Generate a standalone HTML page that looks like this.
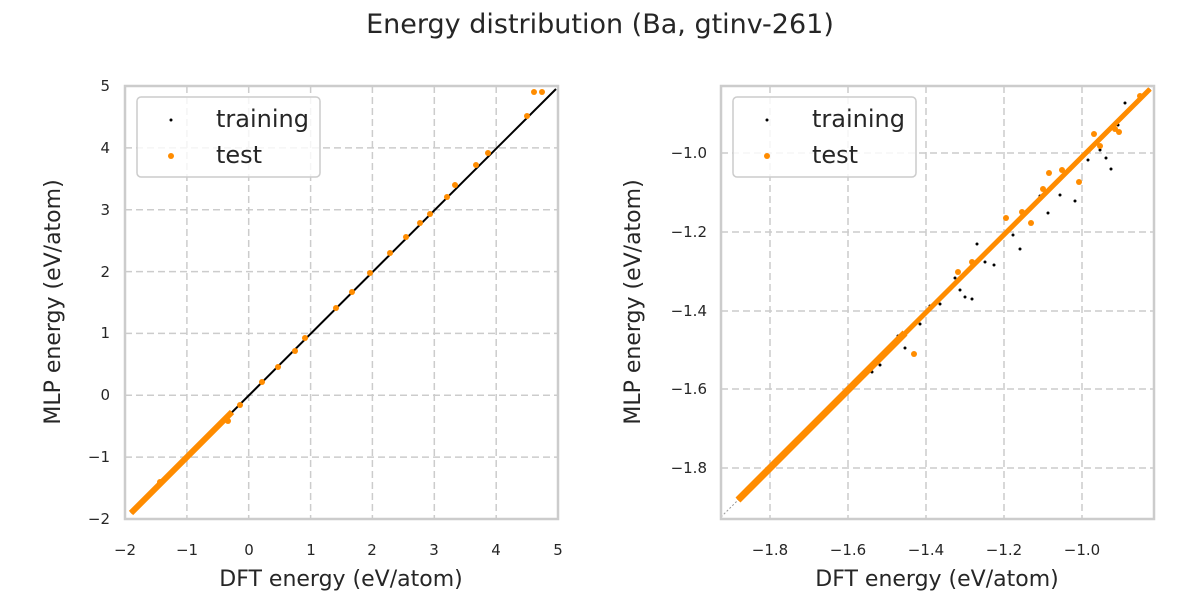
<!DOCTYPE html>
<html><head><meta charset="utf-8"><style>
body{margin:0;background:#fff;font-family:"DejaVu Sans","Liberation Sans",sans-serif;}
</style></head><body>
<svg width="1200" height="600" xmlns="http://www.w3.org/2000/svg" font-family="DejaVu Sans, Liberation Sans, sans-serif" fill="#262626">
<text x="600" y="33" font-size="27" text-anchor="middle">Energy distribution (Ba, gtinv-261)</text>

<!-- LEFT -->
<g stroke="#cccccc" stroke-width="1.5" stroke-dasharray="7,4">
<line x1="186.9" y1="86" x2="186.9" y2="519"/><line x1="248.7" y1="86" x2="248.7" y2="519"/><line x1="310.6" y1="86" x2="310.6" y2="519"/><line x1="372.4" y1="86" x2="372.4" y2="519"/><line x1="434.3" y1="86" x2="434.3" y2="519"/><line x1="496.2" y1="86" x2="496.2" y2="519"/>
<line x1="125" y1="457.1" x2="558" y2="457.1"/><line x1="125" y1="395.3" x2="558" y2="395.3"/><line x1="125" y1="333.4" x2="558" y2="333.4"/><line x1="125" y1="271.6" x2="558" y2="271.6"/><line x1="125" y1="209.7" x2="558" y2="209.7"/><line x1="125" y1="147.9" x2="558" y2="147.9"/>
</g>
<line x1="131" y1="513" x2="556" y2="89" stroke="#000" stroke-width="2"/>
<line x1="131" y1="513" x2="232" y2="412" stroke="#ff8c00" stroke-width="6"/>
<g fill="#ff8c00">
<circle cx="160" cy="482" r="3"/><circle cx="185" cy="459" r="3"/><circle cx="228" cy="421" r="3"/><circle cx="240" cy="405" r="3"/><circle cx="262" cy="382" r="3"/><circle cx="278" cy="367" r="3"/><circle cx="295" cy="351" r="3"/><circle cx="305" cy="338" r="3"/><circle cx="336" cy="308" r="3"/><circle cx="352" cy="292" r="3"/><circle cx="370" cy="273" r="3"/><circle cx="390" cy="253" r="3"/><circle cx="406" cy="237" r="3"/><circle cx="420" cy="223" r="3"/><circle cx="430" cy="214" r="3"/><circle cx="447" cy="197" r="3"/><circle cx="455" cy="185" r="3"/><circle cx="476" cy="165" r="3"/><circle cx="488" cy="153" r="3"/><circle cx="527" cy="116" r="3"/><circle cx="534" cy="92" r="3"/><circle cx="542" cy="92" r="3"/>
</g>
<rect x="125" y="86" width="433" height="433" fill="none" stroke="#cccccc" stroke-width="2.5"/>
<g font-size="15" text-anchor="end">
<text x="110" y="524">−2</text><text x="110" y="462">−1</text><text x="110" y="400">0</text><text x="110" y="338">1</text><text x="110" y="277">2</text><text x="110" y="215">3</text><text x="110" y="153">4</text><text x="110" y="91">5</text>
</g>
<g font-size="15" text-anchor="middle">
<text x="125" y="555">−2</text><text x="187" y="555">−1</text><text x="249" y="555">0</text><text x="311" y="555">1</text><text x="372" y="555">2</text><text x="434" y="555">3</text><text x="496" y="555">4</text><text x="558" y="555">5</text>
</g>
<text x="341" y="586" font-size="22" text-anchor="middle">DFT energy (eV/atom)</text>
<text transform="translate(60,302) rotate(-90)" font-size="22" text-anchor="middle">MLP energy (eV/atom)</text>
<rect x="137" y="97" width="183" height="80" rx="4" fill="#fff" fill-opacity="0.8" stroke="#cccccc" stroke-width="1.5"/>
<circle cx="171" cy="120" r="1.5" fill="#000"/><circle cx="171" cy="156" r="3" fill="#ff8c00"/>
<text x="216" y="127" font-size="24">training</text><text x="216" y="163" font-size="24">test</text>

<!-- RIGHT -->
<g stroke="#cccccc" stroke-width="1.5" stroke-dasharray="7,4">
<line x1="770" y1="86" x2="770" y2="519"/><line x1="848" y1="86" x2="848" y2="519"/><line x1="926" y1="86" x2="926" y2="519"/><line x1="1004" y1="86" x2="1004" y2="519"/><line x1="1082" y1="86" x2="1082" y2="519"/>
<line x1="721" y1="153" x2="1154" y2="153"/><line x1="721" y1="232" x2="1154" y2="232"/><line x1="721" y1="311" x2="1154" y2="311"/><line x1="721" y1="389" x2="1154" y2="389"/><line x1="721" y1="468" x2="1154" y2="468"/>
</g>
<line x1="721" y1="517" x2="1152" y2="88" stroke="#999" stroke-width="1" stroke-dasharray="2,2"/>
<line x1="738" y1="500" x2="1150" y2="89" stroke="#000" stroke-width="3"/>
<g fill="#000">
<circle cx="1111" cy="169" r="1.5"/><circle cx="1075" cy="201" r="1.5"/><circle cx="1106" cy="158" r="1.5"/><circle cx="1048" cy="213" r="1.5"/><circle cx="1020" cy="249" r="1.5"/><circle cx="994" cy="265" r="1.5"/><circle cx="977" cy="244" r="1.5"/><circle cx="1060" cy="195" r="1.5"/><circle cx="1088" cy="160" r="1.5"/><circle cx="1100" cy="150" r="1.5"/><circle cx="1040" cy="196" r="1.5"/><circle cx="1013" cy="235" r="1.5"/><circle cx="985" cy="262" r="1.5"/><circle cx="960" cy="290" r="1.5"/><circle cx="965" cy="297" r="1.5"/><circle cx="972" cy="299" r="1.5"/><circle cx="940" cy="304" r="1.5"/><circle cx="930" cy="306" r="1.5"/><circle cx="920" cy="324" r="1.5"/><circle cx="905" cy="348" r="1.5"/><circle cx="898" cy="336" r="1.5"/><circle cx="880" cy="365" r="1.5"/><circle cx="872" cy="372" r="1.5"/><circle cx="1125" cy="103" r="1.5"/><circle cx="1130" cy="108" r="1.5"/><circle cx="1118" cy="125" r="1.5"/><circle cx="1070" cy="170" r="1.5"/><circle cx="1028" cy="210" r="1.5"/><circle cx="955" cy="278" r="1.5"/>
</g>
<line x1="738" y1="500" x2="1150" y2="89" stroke="#ff8c00" stroke-width="5"/>
<line x1="738" y1="500" x2="905" y2="333" stroke="#ff8c00" stroke-width="7"/>
<g fill="#ff8c00">
<circle cx="914" cy="354" r="3"/><circle cx="1079" cy="182" r="3"/><circle cx="1006" cy="218" r="3"/><circle cx="1049" cy="173" r="3"/><circle cx="1031" cy="223" r="3"/><circle cx="1115" cy="129" r="3"/><circle cx="1119" cy="132" r="3"/><circle cx="1100" cy="146" r="3"/><circle cx="1094" cy="134" r="3"/><circle cx="1140" cy="96" r="3"/><circle cx="1062" cy="170" r="3"/><circle cx="1043" cy="189" r="3"/><circle cx="972" cy="262" r="3"/><circle cx="958" cy="272" r="3"/><circle cx="1022" cy="212" r="3"/>
</g>
<rect x="721" y="86" width="433" height="433" fill="none" stroke="#cccccc" stroke-width="2.5"/>
<g font-size="15" text-anchor="end">
<text x="707" y="158">−1.0</text><text x="707" y="237">−1.2</text><text x="707" y="316">−1.4</text><text x="707" y="394">−1.6</text><text x="707" y="473">−1.8</text>
</g>
<g font-size="15" text-anchor="middle">
<text x="770" y="555">−1.8</text><text x="848" y="555">−1.6</text><text x="926" y="555">−1.4</text><text x="1004" y="555">−1.2</text><text x="1082" y="555">−1.0</text>
</g>
<text x="937" y="586" font-size="22" text-anchor="middle">DFT energy (eV/atom)</text>
<text transform="translate(640,302) rotate(-90)" font-size="22" text-anchor="middle">MLP energy (eV/atom)</text>
<rect x="733" y="97" width="183" height="80" rx="4" fill="#fff" fill-opacity="0.8" stroke="#cccccc" stroke-width="1.5"/>
<circle cx="767" cy="120" r="1.5" fill="#000"/><circle cx="767" cy="156" r="3" fill="#ff8c00"/>
<text x="812" y="127" font-size="24">training</text><text x="812" y="163" font-size="24">test</text>
</svg>
</body></html>
